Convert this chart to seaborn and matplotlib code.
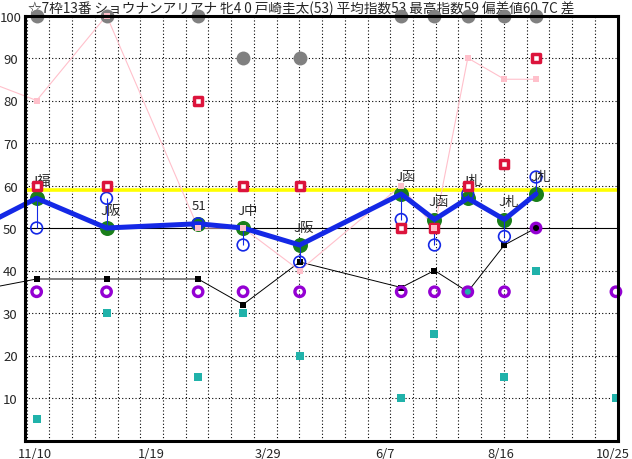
import numpy as np
import matplotlib
matplotlib.use("Agg")
import matplotlib.pyplot as plt
import matplotlib.transforms as mtransforms
import seaborn as sns

# x = days counted from 11/10
race_day = [1, 43, 98, 125, 159, 220, 240, 260, 282, 301]
prev_day = -39
next_day = 349

index_val = [57, 50, 51, 50, 46, 58, 52, 57, 52, 58]     # green / thick blue line
prev_index = 49
blue_val = [50, 57, 51, 46, 42, 52, 46, 58, 48, 62]      # hollow blue circles
red_val = [60, 60, 80, 60, 60, 50, 50, 60, 65, 90]       # red squares
pink_val = [80, 100, 50, 50, 40, 60, 50, 90, 85, 85]     # pink line
prev_pink = 86
black_val = [38, 38, 38, 32, 42, 36, 40, 35, 46, 50]     # black line
prev_black = 35
purple_val = [35, 35, 35, 35, 35, 35, 35, 35, 35, 50]
next_purple = 35
teal_val = [5, 30, 15, 30, 20, 10, 25, 35, 15, 40]
next_teal = 10
gray_val = [100, 100, 100, 90, 90, 100, 100, 100, 100, 100]
course = ["J福", "J阪", "51", "J中", "J阪", "J函", "J函", "J札", "J札", "J札"]

tick_day = [0, 70, 140, 210, 280, 350]
tick_lab = ["11/10", "1/19", "3/29", "6/7", "8/16", "10/25"]
title = "☆7枠13番 ショウナンアリアナ 牝4 0 戸崎圭太(53) 平均指数53 最高指数59 偏差値60.7C 差"
best_line = 59

sns.set_style("white")
plt.rcParams["font.family"] = ["Noto Sans CJK JP", "DejaVu Sans"]

fig = plt.figure(figsize=(6.32, 4.60), dpi=100)
ax = fig.add_axes([25 / 632, 18.5 / 460, 592.6 / 632, 425 / 460])
ax.set_xlim(-6.0, 350)
ax.set_ylim(0, 100)

# grid
for gx in np.arange(-5.05, 350, 13.655):
    ax.axvline(gx, color="black", lw=0.8, ls=(0, (1, 2)), zorder=1)
for gy in [10, 20, 30, 40, 60, 70, 80, 90]:
    ax.axhline(gy, color="black", lw=0.8, ls=(0, (1, 2)), zorder=1)
ax.axhline(50, color="black", lw=0.8, zorder=1)
ax.axhline(best_line, color="#ffff00", lw=2.6, zorder=2)

# black line
sns.lineplot(x=[prev_day] + race_day, y=[prev_black] + black_val, color="black",
             lw=0.7, marker="s", markersize=4.3, markeredgewidth=0,
             clip_on=False, zorder=3, errorbar=None, ax=ax)
# teal squares
sns.scatterplot(x=race_day + [next_day], y=teal_val + [next_teal], marker="s",
                s=6.2 ** 2, color="#20b2aa", linewidth=0, clip_on=False,
                zorder=4, ax=ax)
# pink line
sns.lineplot(x=[prev_day] + race_day, y=[prev_pink] + pink_val, color="#ffc0cb",
             lw=0.8, clip_on=False, zorder=5, errorbar=None, ax=ax)
# thick blue index line + green circles
sns.lineplot(x=[prev_day] + race_day, y=[prev_index] + index_val, color="#1428e6",
             lw=3.6, clip_on=False, zorder=6, errorbar=None, ax=ax)
sns.scatterplot(x=race_day, y=index_val, marker="o", s=10.8 ** 2, color="#1a7f1a",
                linewidth=0, zorder=5.5, ax=ax)
ax.vlines(race_day, index_val, blue_val, color="#1428e6", lw=0.8, zorder=7)
sns.scatterplot(x=race_day, y=blue_val, marker="o", s=8.4 ** 2, facecolor="none",
                edgecolor="#1428e6", linewidth=1.2, zorder=8, ax=ax)

# course labels
for d, v, t in zip(race_day, index_val, course):
    ax.text(d - 3.6, v + 4.2, t, fontsize=9.5, ha="left", va="center",
            zorder=8.5)

# red squares
sns.scatterplot(x=race_day, y=red_val, marker="s", s=5.4 ** 2, facecolor="white",
                edgecolor="#dc143c", linewidth=2.5, zorder=9, ax=ax)
# pink squares
sns.scatterplot(x=[prev_day] + race_day, y=[prev_pink] + pink_val, marker="s",
                s=5 ** 2, color="#ffc0cb", linewidth=0, zorder=10, ax=ax)
# purple rings
sns.scatterplot(x=race_day + [next_day], y=purple_val + [next_purple], marker="o",
                s=6.8 ** 2, facecolor="none", edgecolor="#9400d3", linewidth=2.4,
                clip_on=False, zorder=11, ax=ax)

# title (under the gray circles)
ax.text(28 / 632, 1 - 8.5 / 460, title, transform=fig.transFigure, fontsize=9.8,
        ha="left", va="center", zorder=11.5, clip_on=False)
sns.scatterplot(x=race_day, y=gray_val, marker="o", s=10 ** 2, color="#808080",
                linewidth=0, clip_on=False, zorder=12, ax=ax)
# pink square at 100 sits over the gray circle
sns.scatterplot(x=[race_day[1]], y=[pink_val[1]], marker="s", s=5 ** 2,
                color="#ffc0cb", linewidth=0, clip_on=False, zorder=13, ax=ax)

ax.set_xticks(tick_day)
ax.set_xticklabels(tick_lab, fontsize=9.3)
ax.set_yticks(range(10, 101, 10))
ax.set_yticklabels([str(v) for v in range(10, 101, 10)], fontsize=9.5)
for lab in ax.get_yticklabels():
    lab.set_horizontalalignment("center")
ax.tick_params(axis="y", length=0, pad=10.5)
ax.tick_params(axis="x", length=0, pad=5)
last = ax.get_xticklabels()[-1]
last.set_transform(last.get_transform()
                   + mtransforms.ScaledTranslation(-0.045, 0, fig.dpi_scale_trans))
ax.set_xlabel("")
ax.set_ylabel("")
for sp in ax.spines.values():
    sp.set_color("black")
    sp.set_linewidth(2.2)
    sp.set_zorder(14)

fig.savefig("out.png", dpi=100, facecolor="white")
